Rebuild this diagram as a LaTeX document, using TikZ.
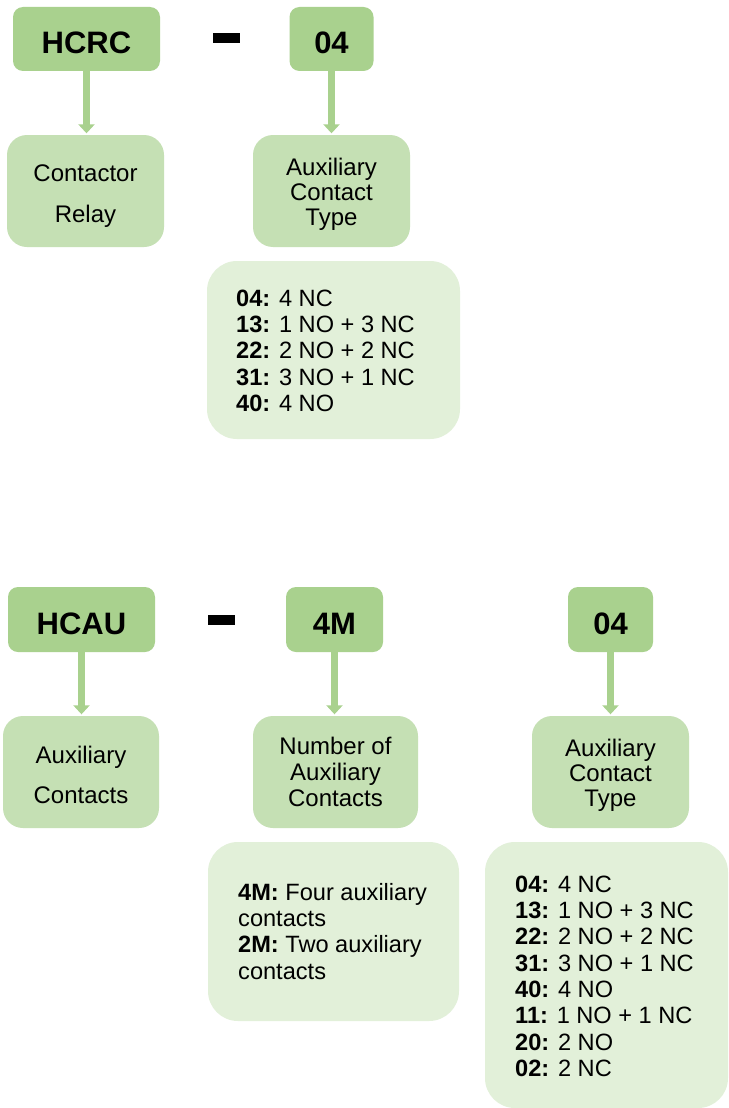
\documentclass[tikz,border=0pt]{standalone}
\usepackage{fontspec}
\setmainfont{Liberation Sans}
\usetikzlibrary{arrows.meta}

\definecolor{codegreen}{HTML}{A9D18E}
\definecolor{descgreen}{HTML}{C5E0B4}
\definecolor{listgreen}{HTML}{E2F0D9}

\tikzset{
  codebox/.style={rectangle, rounded corners=10pt, fill=codegreen, inner sep=0pt},
  descbox/.style={rectangle, rounded corners=20pt, fill=descgreen, inner sep=0pt},
  listbox/.style={rectangle, rounded corners=30pt, fill=listgreen, inner sep=0pt},
  dashbar/.style={rectangle, fill=black, inner sep=0pt, minimum width=27pt, minimum height=10pt},
  codetext/.style={anchor=base, inner sep=0pt, font=\fontsize{31}{34}\selectfont\bfseries},
  desctext/.style={anchor=north, align=center, inner sep=0pt},
  listtext/.style={anchor=north west, align=left, inner sep=0pt,
    font=\fontsize{23.6}{26.3}\selectfont},
  link/.style={draw=codegreen, line width=6.5pt, shorten >=1.5pt,
    -{Triangle[width=16pt,length=9pt]}},
}

\begin{document}
\begin{tikzpicture}[x=1pt, y=-1pt]
  \useasboundingbox (0,0) rectangle (728,1108);
  \fill[white] (0,0) rectangle (728,1108);

  % ---------- HCRC - 04 ----------
  \node[codebox, minimum width=147pt, minimum height=64pt] (hcrc) at (86.5,39) {};
  \node[codetext] (hcrcT) at (86.5,53) {HCRC};
  \node[dashbar] (dashA) at (226.5,38) {};
  \node[codebox, minimum width=84pt, minimum height=64pt] (crcType) at (331.5,39) {};
  \node[codetext] (crcTypeT) at (331.5,53) {04};

  \node[descbox, minimum width=157pt, minimum height=112pt] (relay) at (85.5,191) {};
  \node[desctext, font=\fontsize{24}{41.5}\selectfont] (relayT) at (85.5,164.3)
    {Contactor\\Relay};
  \node[descbox, minimum width=157pt, minimum height=112pt] (crcDesc) at (331.5,191) {};
  \node[desctext, font=\fontsize{24}{25}\selectfont] (crcDescT) at (331.5,157.5)
    {Auxiliary\\Contact\\Type};

  \draw[link] (hcrc.south) -- (hcrc.south |- relay.north);
  \draw[link] (crcType.south) -- (crcType.south |- crcDesc.north);

  \node[listbox, minimum width=253pt, minimum height=178pt] (crcList) at (333.5,350) {};
  \node[listtext] (crcListT) at (236,289.6)
    {\textbf{04:} 4 NC\\
     \textbf{13:} 1 NO + 3 NC\\
     \textbf{22:} 2 NO + 2 NC\\
     \textbf{31:} 3 NO + 1 NC\\
     \textbf{40:} 4 NO};

  % ---------- HCAU - 4M 04 ----------
  \node[codebox, minimum width=147pt, minimum height=65pt] (hcau) at (81.5,619.5) {};
  \node[codetext] (hcauT) at (81.5,634) {HCAU};
  \node[dashbar] (dashB) at (221.5,619.5) {};
  \node[codebox, minimum width=97pt, minimum height=65pt] (auNum) at (334.5,619.5) {};
  \node[codetext] (auNumT) at (334.5,634) {4M};
  \node[codebox, minimum width=85pt, minimum height=65pt] (auType) at (610.5,619.5) {};
  \node[codetext] (auTypeT) at (610.5,634) {04};

  \node[descbox, minimum width=156pt, minimum height=112pt] (auDesc) at (81,772) {};
  \node[desctext, font=\fontsize{24}{40.5}\selectfont] (auDescT) at (81,745.5)
    {Auxiliary\\Contacts};
  \node[descbox, minimum width=165pt, minimum height=112pt] (numDesc) at (335.5,772) {};
  \node[desctext, font=\fontsize{24}{26}\selectfont] (numDescT) at (335.5,736.5)
    {Number of\\Auxiliary\\Contacts};
  \node[descbox, minimum width=157pt, minimum height=112pt] (typeDesc) at (610.5,772) {};
  \node[desctext, font=\fontsize{24}{25}\selectfont] (typeDescT) at (610.5,738.5)
    {Auxiliary\\Contact\\Type};

  \draw[link] (hcau.south) -- (hcau.south |- auDesc.north);
  \draw[link] (auNum.south) -- (auNum.south |- numDesc.north);
  \draw[link] (auType.south) -- (auType.south |- typeDesc.north);

  \node[listbox, minimum width=251pt, minimum height=179pt] (numList) at (333.5,931.5) {};
  \node[listtext] (numListT) at (238,882.8)
    {\textbf{4M:} Four auxiliary\\
     contacts\\
     \textbf{2M:} Two auxiliary\\
     contacts};
  \node[listbox, minimum width=243pt, minimum height=266pt] (typeList) at (606.5,975) {};
  \node[listtext] (typeListT) at (515,875.6)
    {\textbf{04:} 4 NC\\
     \textbf{13:} 1 NO + 3 NC\\
     \textbf{22:} 2 NO + 2 NC\\
     \textbf{31:} 3 NO + 1 NC\\
     \textbf{40:} 4 NO\\
     \textbf{11:} 1 NO + 1 NC\\
     \textbf{20:} 2 NO\\
     \textbf{02:} 2 NC};
\end{tikzpicture}
\end{document}
